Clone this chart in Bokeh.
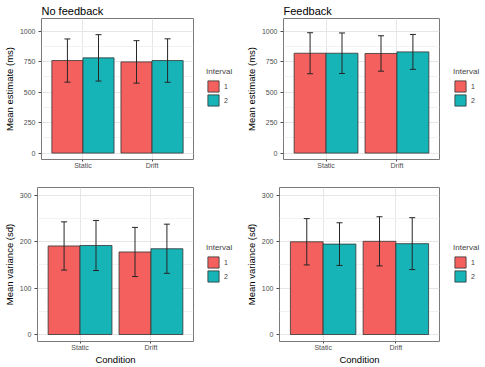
from bokeh.plotting import figure
from bokeh.models import (Range1d, FixedTicker, Legend, LegendItem, Whisker,
                          ColumnDataSource, TeeHead)
from bokeh.layouts import column, row
from bokeh.embed import file_html
from bokeh.resources import INLINE

# Categories and series
conditions = ["Static", "Drift"]
interval_labels = ["1", "2"]

# Mean estimate (ms), no feedback
nofb_est_i1 = [758, 747]
nofb_est_i1_err = [177, 174]
nofb_est_i2 = [780, 758]
nofb_est_i2_err = [190, 178]

# Mean estimate (ms), feedback
fb_est_i1 = [818, 816]
fb_est_i1_err = [168, 145]
fb_est_i2 = [818, 829]
fb_est_i2_err = [166, 143]

# Mean variance (sd), no feedback
nofb_var_i1 = [191, 178]
nofb_var_i1_err = [52, 53]
nofb_var_i2 = [192, 185]
nofb_var_i2_err = [54, 53]

# Mean variance (sd), feedback
fb_var_i1 = [200, 201]
fb_var_i1_err = [50, 53]
fb_var_i2 = [195, 196]
fb_var_i2_err = [46, 56]

est_ticks = [0, 250, 500, 750, 1000]
est_minor = [125, 375, 625, 875]
var_ticks = [0, 100, 200, 300]
var_minor = [50, 150, 250]

COLORS = ["#F3605E", "#16B3B7"]
FONT = "Liberation Sans"


def panel(title, ylabel, xlabel, series, yrange, yticks, yminor,
          width, height, left, top, bottom):
    p = figure(width=width, height=height, output_backend="svg",
               toolbar_location=None,
               x_range=Range1d(0.4, 2.6), y_range=Range1d(*yrange),
               min_border_left=left, min_border_right=2,
               min_border_top=top, min_border_bottom=bottom,
               title=title)
    p.background_fill_color = "white"
    p.outline_line_color = "#7a7a7a"
    p.outline_line_width = 1

    if title:
        p.title.text_font = FONT
        p.title.text_font_size = "11px"
        p.title.text_font_style = "normal"
        p.title.text_color = "black"
        p.title.text_line_height = 1.0
        p.title.standoff = 4
        p.title.offset = 0

    positions = [1, 2]
    bar_w = 0.45
    for k, (means, errs) in enumerate(series):
        xs = [c + (k - 0.5) * bar_w for c in positions]
        src = ColumnDataSource(dict(
            x=xs, top=means,
            upper=[m + e for m, e in zip(means, errs)],
            lower=[m - e for m, e in zip(means, errs)]))
        p.vbar(x="x", top="top", bottom=0, width=bar_w, source=src,
               fill_color=COLORS[k], line_color="#333333", line_width=0.8)
        w = Whisker(base="x", upper="upper", lower="lower", source=src,
                    line_color="#262626", line_width=1, level="overlay")
        w.upper_head = TeeHead(size=6, line_color="#262626", line_width=1)
        w.lower_head = TeeHead(size=6, line_color="#262626", line_width=1)
        p.add_layout(w)

    # axes
    p.xaxis.ticker = FixedTicker(ticks=positions)
    p.xaxis.major_label_overrides = {pos: lab for pos, lab in zip(positions, conditions)}
    p.yaxis.ticker = FixedTicker(ticks=yticks, minor_ticks=yminor)
    for ax in (p.xaxis[0], p.yaxis[0]):
        ax.axis_line_color = None
        ax.major_tick_out = 3
        ax.major_tick_in = 0
        ax.minor_tick_line_color = None
        ax.major_tick_line_color = "#4d4d4d"
        ax.major_label_text_font = FONT
        ax.major_label_text_font_size = "7px"
        ax.major_label_text_color = "#4d4d4d"
        ax.major_label_text_line_height = 1.0
        ax.major_label_standoff = 1
        ax.axis_label_text_font = FONT
        ax.axis_label_text_font_size = "9.5px"
        ax.axis_label_text_font_style = "normal"
        ax.axis_label_text_color = "black"
        ax.axis_label_text_line_height = 1.0
        ax.axis_label_standoff = 0
    p.xaxis.major_tick_out = 2
    p.xaxis.major_label_standoff = 0
    p.yaxis.major_label_standoff = 2
    p.yaxis.axis_label_standoff = 2
    p.yaxis.axis_label = ylabel
    if xlabel:
        p.xaxis.axis_label = xlabel

    # grid
    p.xgrid.grid_line_color = "#e6e6e6"
    p.xgrid.grid_line_width = 1
    p.ygrid.grid_line_color = "#e6e6e6"
    p.ygrid.minor_grid_line_color = "#f2f2f2"
    return p


def legend_box(width, height, x, y_bottom):
    # narrow figure holding only the "Interval" key; its frame lines up
    # with the neighbouring panel, the key is placed in screen units
    f = figure(width=width, height=height, output_backend="svg",
               toolbar_location=None, x_axis_location=None,
               y_axis_location=None, x_range=Range1d(0, 1),
               y_range=Range1d(0, 1), min_border=0)
    f.outline_line_color = None
    f.grid.visible = False
    rs = []
    for k in range(len(interval_labels)):
        # one point outside the visible range, so only the key shows it
        src = ColumnDataSource(dict(x=[10], top=[1]))
        rs.append(f.vbar(x="x", top="top", width=0.1, source=src,
                         fill_color=COLORS[k], line_color="#333333",
                         line_width=0.8))
    legend = Legend(
        items=[LegendItem(label=lab, renderers=[r])
               for lab, r in zip(interval_labels, rs)],
        title="Interval", location=(x, y_bottom),
        glyph_width=14, glyph_height=14, label_height=14,
        spacing=0, padding=0, margin=0, label_standoff=4,
        label_text_font=FONT, label_text_font_size="7px",
        title_text_font=FONT, title_text_font_size="8px",
        title_text_font_style="normal", title_standoff=3,
        border_line_color=None, background_fill_alpha=0)
    f.add_layout(legend)
    return f


p_tl = panel("No feedback", "Mean estimate (ms)", None,
             [(nofb_est_i1, nofb_est_i1_err), (nofb_est_i2, nofb_est_i2_err)],
             (-52.5, 1102.5), est_ticks, est_minor,
             195, 180, 37, 17, 21)
p_tr = panel("Feedback", "Mean estimate (ms)", None,
             [(fb_est_i1, fb_est_i1_err), (fb_est_i2, fb_est_i2_err)],
             (-52.5, 1102.5), est_ticks, est_minor,
             199, 180, 41, 17, 21)
p_bl = panel(None, "Mean variance (sd)", "Condition",
             [(nofb_var_i1, nofb_var_i1_err), (nofb_var_i2, nofb_var_i2_err)],
             (-15.1, 317.1), var_ticks, var_minor,
             195, 187, 33, 7, 24)
p_br = panel(None, "Mean variance (sd)", "Condition",
             [(fb_var_i1, fb_var_i1_err), (fb_var_i2, fb_var_i2_err)],
             (-15.1, 317.1), var_ticks, var_minor,
             199, 187, 37, 7, 24)

layout = column(
    row(p_tl, legend_box(47, 180, 11, 52), p_tr, legend_box(44, 180, 12, 52)),
    row(p_bl, legend_box(47, 187, 11, 58), p_br, legend_box(44, 187, 12, 58)),
)
open("out.html", "w").write(file_html(layout, INLINE))
